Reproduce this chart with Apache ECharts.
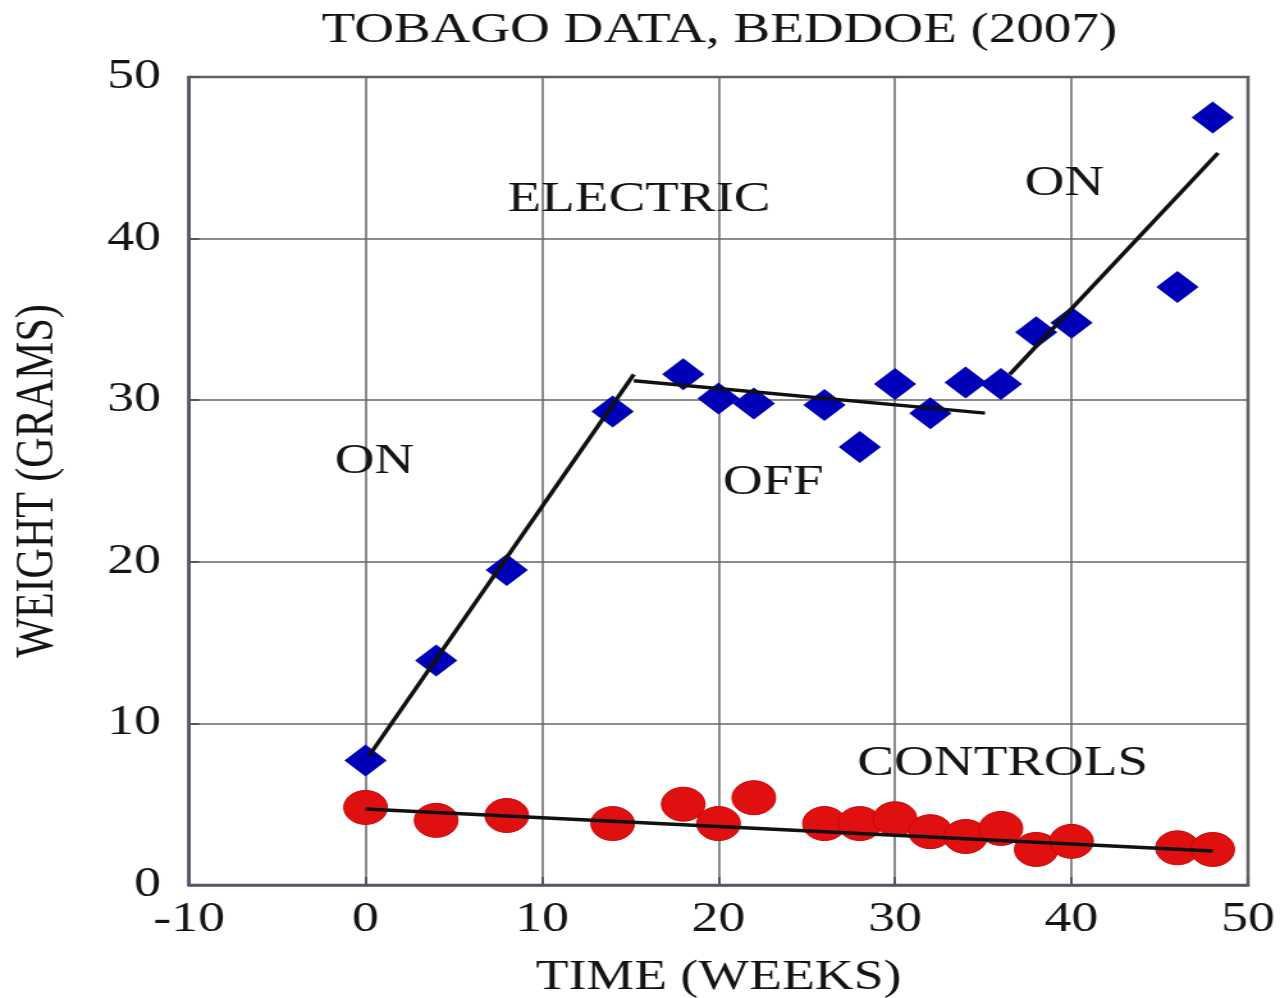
<!DOCTYPE html>
<html>
<head>
<meta charset="utf-8">
<script src="https://cdn.jsdelivr.net/npm/echarts@6/dist/echarts.min.js"></script>
<style>
  html, body { margin: 0; padding: 0; background: #fff; overflow: hidden; }
  /* the source picture is stretched sideways, so the chart is drawn narrow and widened */
  #chart {
    width: 1003px;
    height: 998px;
    transform: scaleX(1.28);
    transform-origin: 0 0;
  }
</style>
</head>
<body>
<div id="chart"></div>
<script>
// weeks at which the fish were weighed
const weeks = [0, 4, 8, 14, 18, 20, 22, 26, 28, 30, 32, 34, 36, 38, 40, 46, 48]
// electric group weight (grams)
const electric = [7.7, 13.9, 19.5, 29.3, 31.6, 30.1, 29.8, 29.7, 27.1, 31.0, 29.2, 31.1, 31.0, 34.2, 34.8, 37.0, 47.5]
// control group weight (grams)
const controls = [4.8, 4.0, 4.3, 3.8, 5.0, 3.8, 5.4, 3.8, 3.8, 4.1, 3.3, 3.0, 3.5, 2.2, 2.7, 2.3, 2.2]

// fitted lines drawn on the original
const fitOn1 = [[0.2, 8.0], [15.2, 31.6]]
const fitOff = [[15.2, 31.2], [35.1, 29.2]]
const fitOn2 = [[36.5, 31.6], [48.3, 45.3]]
const fitControls = [[0, 4.7], [48, 2.1]]

// text written inside the plot
const notes = [
  { name: 'ELECTRIC', value: [15.5, 42.4] },
  { name: 'ON', value: [0.5, 26.2] },
  { name: 'OFF', value: [23.1, 24.9] },
  { name: 'ON', value: [39.6, 43.4] },
  { name: 'CONTROLS', value: [36.1, 7.5] }
]

const serif = '"Liberation Serif", "DejaVu Serif", serif'
const ink = '#141414'
const frame = '#55556a'

const pairs = (xs, ys) => xs.map((x, i) => [x, ys[i]])

const fitLine = (data) => ({
  type: 'line',
  data: data,
  symbol: 'none',
  silent: true,
  z: 5,
  lineStyle: { color: '#111', width: 3.5 }
})

const chart = echarts.init(document.getElementById('chart'))

const option = {
  backgroundColor: '#fff',
  animation: false,
  title: {
    text: 'TOBAGO DATA, BEDDOE (2007)',
    left: 562,
    top: 9,
    textAlign: 'center',
    padding: 0,
    textStyle: {
      fontFamily: serif,
      fontSize: 43,
      fontWeight: 'normal',
      color: ink
    }
  },
  grid: {
    left: 147.7,
    right: 28,
    top: 77,
    bottom: 113,
    outerBoundsMode: 'none',
    show: true,
    borderColor: frame,
    borderWidth: 2.5
  },
  xAxis: {
    type: 'value',
    min: -10,
    max: 50,
    interval: 10,
    name: 'TIME (WEEKS)',
    nameLocation: 'middle',
    nameGap: 72,
    nameTextStyle: { fontFamily: serif, fontSize: 42, color: ink },
    axisLine: { show: true, onZero: false, lineStyle: { color: frame, width: 2.5 } },
    axisTick: { show: true, inside: true, length: 8, lineStyle: { color: frame, width: 2 } },
    axisLabel: { fontFamily: serif, fontSize: 42, color: ink, margin: 14 },
    splitLine: { show: true, lineStyle: { color: '#666', width: 1.5 } }
  },
  yAxis: {
    type: 'value',
    min: 0,
    max: 50,
    interval: 10,
    name: 'WEIGHT (GRAMS)',
    nameLocation: 'middle',
    nameGap: 97,
    nameTextStyle: { fontFamily: serif, fontSize: 42, color: ink },
    axisLine: { show: true, onZero: false, lineStyle: { color: frame, width: 2.5 } },
    axisTick: { show: true, inside: true, length: 8, lineStyle: { color: frame, width: 2 } },
    axisLabel: { fontFamily: serif, fontSize: 42, color: ink, margin: 22 },
    splitLine: { show: true, lineStyle: { color: '#666', width: 1.5 } }
  },
  series: [
    {
      name: 'CONTROLS',
      type: 'scatter',
      data: pairs(weeks, controls),
      symbol: 'circle',
      symbolSize: 34,
      z: 3,
      itemStyle: { color: '#e01010', borderColor: '#c40808', borderWidth: 1, opacity: 1 }
    },
    {
      name: 'ELECTRIC',
      type: 'scatter',
      data: pairs(weeks, electric),
      symbol: 'diamond',
      symbolSize: [33, 32],
      z: 3,
      itemStyle: { color: '#0000b8', opacity: 1 }
    },
    fitLine(fitOn1),
    fitLine(fitOff),
    fitLine(fitOn2),
    fitLine(fitControls),
    {
      name: 'notes',
      type: 'scatter',
      data: notes,
      symbolSize: 0,
      silent: true,
      z: 6,
      itemStyle: { opacity: 1 },
      label: {
        show: true,
        position: 'inside',
        formatter: (p) => p.name,
        fontFamily: serif,
        fontSize: 43,
        color: ink
      }
    }
  ]
}

chart.setOption(option)
</script>
</body>
</html>
